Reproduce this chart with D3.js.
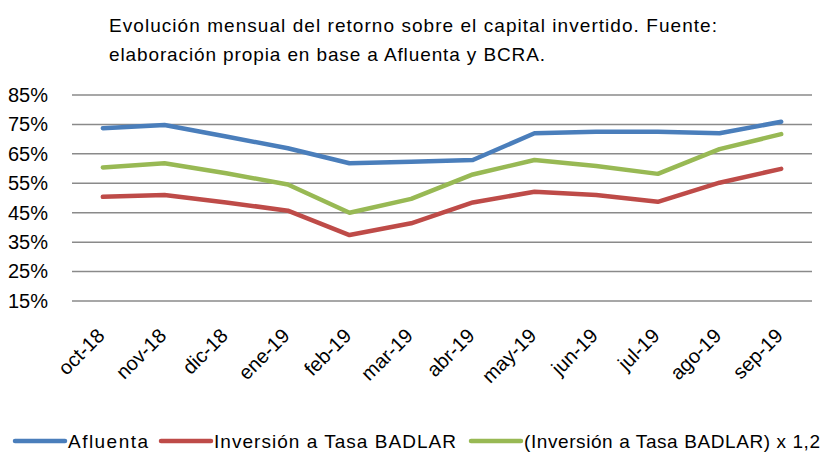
<!DOCTYPE html>
<html>
<head>
<meta charset="utf-8">
<script src="https://cdn.jsdelivr.net/npm/d3@7"></script>
<style>
  body { margin: 0; background: #fff; }
  svg { font-family: "Liberation Sans", Arial, sans-serif; }
</style>
</head>
<body>
<div id="chart"></div>
<script>
const meses = ["oct-18", "nov-18", "dic-18", "ene-19", "feb-19", "mar-19", "abr-19", "may-19", "jun-19", "jul-19", "ago-19", "sep-19"];
const afluenta = [73.7, 74.8, 70.9, 66.9, 61.8, 62.3, 62.9, 72.0, 72.5, 72.5, 72.0, 75.9];
const badlar = [50.4, 51.0, 48.5, 45.7, 37.4, 41.4, 48.5, 52.1, 51.0, 48.7, 55.2, 59.9];
const badlar12 = [60.4, 61.8, 58.4, 54.6, 45.0, 49.7, 58.0, 62.9, 60.9, 58.2, 66.6, 71.7];
const yTicks = [15, 25, 35, 45, 55, 65, 75, 85];
const series = [
  { name: "Afluenta", values: afluenta, color: "#4A7EBB" },
  { name: "Inversión a Tasa BADLAR", values: badlar, color: "#BE4B48" },
  { name: "(Inversión a Tasa BADLAR) x 1,2", values: badlar12, color: "#98B954" }
];

const width = 824, height = 455;
const margin = { top: 95, right: 12, bottom: 154, left: 72 };

const svg = d3.select("#chart").append("svg")
  .attr("width", width).attr("height", height);

const x = d3.scaleBand().domain(meses).range([margin.left, width - margin.right]).padding(0);
const y = d3.scaleLinear().domain([15, 85]).range([height - margin.bottom, margin.top]);

// titulo (dos lineas, ancho ajustado al original)
const titulo = svg.append("g").attr("font-size", 19).attr("fill", "#000");
titulo.append("text").attr("x", 109).attr("y", 32)
  .attr("textLength", 608).attr("lengthAdjust", "spacing")
  .text("Evolución mensual del retorno sobre el capital invertido. Fuente:");
titulo.append("text").attr("x", 109).attr("y", 61)
  .attr("textLength", 436).attr("lengthAdjust", "spacing")
  .text("elaboración propia en base a Afluenta  y BCRA.");

// grilla
svg.append("g")
  .selectAll("line").data(yTicks).join("line")
  .attr("x1", margin.left).attr("x2", width - margin.right)
  .attr("y1", d => y(d)).attr("y2", d => y(d))
  .attr("stroke", "#8a8a8a").attr("stroke-width", 1.5);

// eje y
const yAxis = svg.append("g")
  .attr("transform", `translate(${margin.left},0)`)
  .call(d3.axisLeft(y).tickValues(yTicks).tickSize(0).tickPadding(24).tickFormat(d => d + "%"));
yAxis.select(".domain").remove();
yAxis.selectAll("text").attr("font-size", 20).attr("font-family", "Liberation Sans").attr("fill", "#000");

// eje x
const xAxis = svg.append("g")
  .attr("transform", `translate(0,${height - margin.bottom})`)
  .call(d3.axisBottom(x).tickSize(0).tickPadding(0));
xAxis.select(".domain").remove();
xAxis.selectAll("text")
  .attr("font-size", 20).attr("font-family", "Liberation Sans").attr("fill", "#000")
  .attr("text-anchor", "end")
  .attr("dy", 0)
  .attr("transform", "translate(3,36) rotate(-45)");

// lineas
const line = d3.line()
  .x((d, i) => x(meses[i]) + x.bandwidth() / 2)
  .y(d => y(d));

svg.append("g").selectAll("path").data(series).join("path")
  .attr("fill", "none")
  .attr("stroke", d => d.color)
  .attr("stroke-width", 4.5)
  .attr("stroke-linejoin", "round")
  .attr("stroke-linecap", "round")
  .attr("d", d => line(d.values));

// leyenda
const legendX = [15, 161, 471];
const legendW = [80, 242, 296];
const legend = svg.append("g").selectAll("g").data(series).join("g")
  .attr("transform", (d, i) => `translate(${legendX[i]},441)`);
legend.append("line")
  .attr("x1", 0).attr("x2", 50).attr("y1", 0).attr("y2", 0)
  .attr("stroke", d => d.color).attr("stroke-width", 4.5).attr("stroke-linecap", "round");
legend.append("text")
  .attr("x", 53).attr("y", 7)
  .attr("font-size", 19).attr("fill", "#000")
  .attr("textLength", (d, i) => legendW[i]).attr("lengthAdjust", "spacing")
  .text(d => d.name);
</script>
</body>
</html>
